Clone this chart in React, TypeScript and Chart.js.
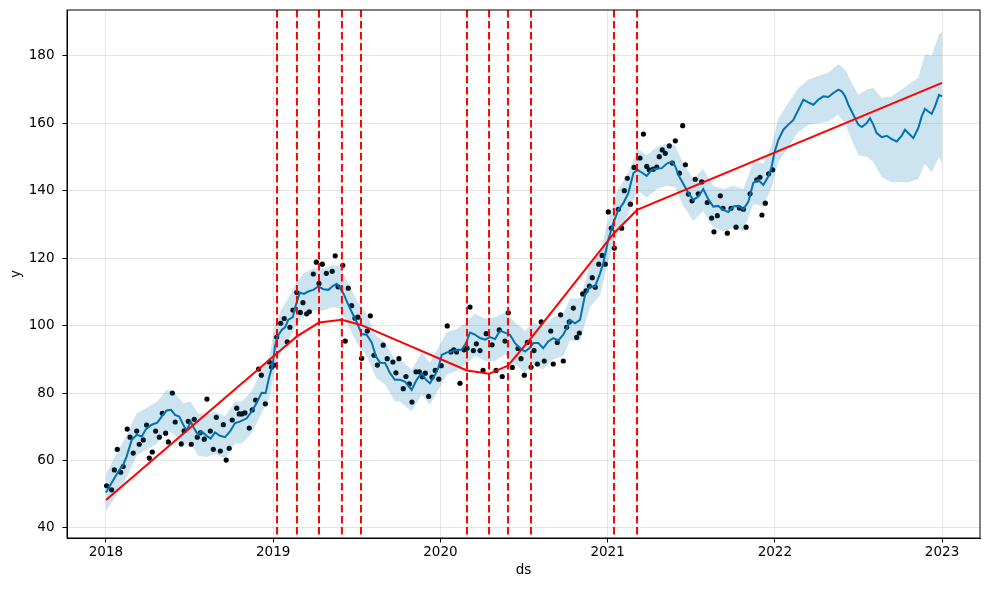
import React, { useEffect, useRef } from 'react';
import { Chart, registerables } from 'chart.js';

Chart.register(...registerables);

// Observed history (decimal years, value)
const historyDs = [
  2018.004, 2018.034, 2018.050, 2018.068, 2018.088, 2018.103, 2018.127, 2018.144, 2018.163, 2018.184,
  2018.199, 2018.223, 2018.243, 2018.259, 2018.277, 2018.297, 2018.319, 2018.337, 2018.357, 2018.373,
  2018.397, 2018.414, 2018.450, 2018.467, 2018.492, 2018.510, 2018.528, 2018.546, 2018.564, 2018.588,
  2018.604, 2018.624, 2018.642, 2018.660, 2018.684, 2018.702, 2018.719, 2018.737, 2018.755, 2018.782,
  2018.797, 2018.813, 2018.831, 2018.857, 2018.875, 2018.895, 2018.913, 2018.929, 2018.953, 2018.977,
  2018.990, 2019.007, 2019.021, 2019.045, 2019.066, 2019.084, 2019.100, 2019.118, 2019.141, 2019.162,
  2019.178, 2019.200, 2019.216, 2019.240, 2019.258, 2019.274, 2019.294, 2019.318, 2019.353, 2019.371,
  2019.388, 2019.416, 2019.431, 2019.449, 2019.469, 2019.489, 2019.507, 2019.529, 2019.563, 2019.581,
  2019.603, 2019.623, 2019.658, 2019.682, 2019.716, 2019.734, 2019.752, 2019.778, 2019.794, 2019.814,
  2019.830, 2019.854, 2019.874, 2019.892, 2019.910, 2019.930, 2019.950, 2019.969, 2019.990, 2020.005,
  2020.041, 2020.063, 2020.080, 2020.097, 2020.117, 2020.141, 2020.159, 2020.177, 2020.197, 2020.215,
  2020.237, 2020.255, 2020.274, 2020.309, 2020.333, 2020.352, 2020.370, 2020.386, 2020.406, 2020.430,
  2020.464, 2020.482, 2020.502, 2020.520, 2020.542, 2020.560, 2020.580, 2020.603, 2020.621, 2020.660,
  2020.675, 2020.699, 2020.719, 2020.735, 2020.755, 2020.771, 2020.795, 2020.815, 2020.831, 2020.851,
  2020.871, 2020.891, 2020.908, 2020.926, 2020.947, 2020.967, 2020.986, 2021.004, 2021.022, 2021.040,
  2021.064, 2021.084, 2021.100, 2021.118, 2021.136, 2021.158, 2021.194, 2021.214, 2021.234, 2021.249,
  2021.273, 2021.294, 2021.309, 2021.327, 2021.345, 2021.369, 2021.387, 2021.405, 2021.429, 2021.449,
  2021.465, 2021.483, 2021.505, 2021.524, 2021.542, 2021.563, 2021.596, 2021.622, 2021.636, 2021.656,
  2021.674, 2021.690, 2021.716, 2021.738, 2021.768, 2021.788, 2021.812, 2021.828, 2021.852, 2021.892,
  2021.911, 2021.923, 2021.943, 2021.963, 2021.987,
];
const historyY = [
  52.5, 51.3, 57.2, 63.3, 56.5, 58.2, 69.3, 66.9, 62.2, 68.7,
  64.8, 66.1, 70.5, 60.7, 62.5, 68.7, 66.9, 74.0, 68.1, 65.5,
  80.0, 71.4, 64.9, 68.8, 71.6, 64.8, 72.2, 66.9, 68.2, 66.3,
  78.2, 68.7, 63.3, 72.8, 62.8, 70.6, 60.1, 63.6, 72.0, 75.5,
  73.8, 73.8, 74.1, 69.6, 75.0, 77.9, 87.1, 85.3, 76.8, 89.2,
  87.7, 88.3, 96.6, 100.7, 102.1, 95.2, 99.5, 104.6, 109.8, 103.9,
  106.8, 103.5, 104.1, 115.3, 118.8, 112.5, 118.2, 115.5, 116.1, 120.7,
  111.5, 117.9, 95.4, 111.1, 105.9, 102.2, 102.5, 90.3, 98.4, 102.9,
  91.2, 88.3, 94.2, 90.2, 89.2, 86.0, 90.2, 81.3, 84.9, 82.7,
  77.3, 86.3, 86.3, 84.8, 85.9, 79.0, 84.7, 86.7, 84.1, 88.1,
  99.9, 92.2, 92.8, 92.2, 82.9, 92.8, 93.3, 105.5, 92.6, 94.6,
  92.6, 86.7, 97.6, 94.3, 86.7, 98.7, 84.9, 95.4, 103.8, 87.6,
  93.2, 90.2, 85.3, 95.0, 87.7, 92.6, 88.6, 101.1, 89.5, 98.4,
  88.6, 95.0, 103.2, 89.5, 99.5, 101.1, 105.2, 96.5, 97.8, 109.4,
  110.3, 111.7, 114.2, 111.4, 118.2, 120.8, 118.2, 133.7, 128.9, 123.0,
  134.5, 128.9, 140.0, 143.7, 136.0, 146.9, 149.7, 156.8, 147.2, 146.2,
  146.4, 147.0, 150.1, 152.1, 151.1, 153.3, 148.2, 154.8, 145.2, 159.3,
  147.7, 139.0, 137.0, 143.4, 139.1, 142.6, 136.5, 131.9, 127.8, 132.6,
  138.5, 134.8, 127.4, 134.8, 129.2, 134.9, 134.5, 129.2, 139.1, 143.2,
  144.0, 132.8, 136.3, 145.0, 146.2,
];

// Forecast line (yhat)
const forecastDs = [
  2018.000, 2018.044, 2018.074, 2018.103, 2018.124, 2018.154, 2018.184, 2018.214, 2018.239, 2018.273,
  2018.307, 2018.333, 2018.363, 2018.389, 2018.413, 2018.438, 2018.462, 2018.483, 2018.507, 2018.526,
  2018.550, 2018.572, 2018.602, 2018.626, 2018.652, 2018.682, 2018.712, 2018.742, 2018.772, 2018.801,
  2018.842, 2018.871, 2018.901, 2018.931, 2018.955, 2018.977, 2018.997, 2019.011, 2019.025, 2019.051,
  2019.071, 2019.090, 2019.117, 2019.136, 2019.160, 2019.184, 2019.210, 2019.240, 2019.270, 2019.300,
  2019.330, 2019.359, 2019.380, 2019.400, 2019.419, 2019.449, 2019.475, 2019.499, 2019.529, 2019.559,
  2019.589, 2019.615, 2019.639, 2019.669, 2019.699, 2019.728, 2019.758, 2019.788, 2019.828, 2019.858,
  2019.888, 2019.914, 2019.938, 2019.968, 2019.987, 2020.008, 2020.038, 2020.068, 2020.097, 2020.127,
  2020.153, 2020.177, 2020.207, 2020.237, 2020.267, 2020.297, 2020.327, 2020.356, 2020.386, 2020.416,
  2020.446, 2020.476, 2020.506, 2020.532, 2020.556, 2020.586, 2020.615, 2020.645, 2020.675, 2020.705,
  2020.735, 2020.765, 2020.775, 2020.805, 2020.835, 2020.865, 2020.895, 2020.925, 2020.955, 2020.974,
  2021.004, 2021.034, 2021.064, 2021.094, 2021.124, 2021.154, 2021.178, 2021.204, 2021.234, 2021.264,
  2021.294, 2021.324, 2021.353, 2021.383, 2021.403, 2021.423, 2021.453, 2021.483, 2021.513, 2021.543,
  2021.572, 2021.602, 2021.632, 2021.662, 2021.692, 2021.722, 2021.752, 2021.782, 2021.812, 2021.842,
  2021.871, 2021.901, 2021.931, 2021.961, 2021.981, 2021.997, 2022.021, 2022.051, 2022.081, 2022.111,
  2022.141, 2022.171, 2022.200, 2022.230, 2022.260, 2022.290, 2022.320, 2022.350, 2022.380, 2022.400,
  2022.420, 2022.440, 2022.460, 2022.480, 2022.499, 2022.520, 2022.550, 2022.569, 2022.589, 2022.609,
  2022.639, 2022.669, 2022.699, 2022.729, 2022.759, 2022.778, 2022.798, 2022.828, 2022.858, 2022.879,
  2022.898, 2022.918, 2022.938, 2022.958, 2022.982, 2023.000,
];
const forecastYhat = [
  50.5, 54.2, 56.7, 58.7, 61.2, 66.1, 67.6, 67.1, 69.3, 70.6,
  71.2, 73.0, 74.8, 75.0, 73.5, 73.0, 70.6, 68.9, 71.5, 69.6,
  67.6, 68.6, 67.3, 66.5, 68.3, 67.3, 66.9, 68.6, 71.1, 71.5,
  72.5, 74.5, 77.0, 80.1, 80.0, 84.9, 88.4, 93.8, 96.7, 98.7,
  99.5, 101.7, 102.5, 106.2, 109.8, 109.4, 110.1, 110.6, 111.6, 110.8,
  110.6, 111.8, 112.4, 111.1, 109.6, 106.2, 103.5, 101.1, 97.5, 97.3,
  95.0, 90.8, 89.0, 88.9, 85.9, 83.9, 83.9, 83.4, 80.9, 83.9,
  85.9, 83.9, 82.9, 85.4, 87.4, 91.3, 92.0, 92.3, 92.8, 92.8,
  94.8, 97.9, 97.3, 96.3, 95.8, 96.6, 96.0, 98.5, 97.9, 97.3,
  94.8, 93.3, 92.3, 93.3, 94.8, 94.8, 93.3, 95.3, 96.3, 95.6,
  97.3, 100.2, 101.7, 100.7, 101.7, 109.1, 111.6, 111.6, 115.5, 118.5,
  125.4, 130.4, 134.3, 136.3, 139.3, 145.2, 146.2, 145.4, 144.4, 146.2,
  146.6, 146.7, 148.0, 148.7, 147.4, 144.7, 142.0, 139.3, 137.3, 138.3,
  140.5, 137.5, 135.3, 135.5, 134.3, 133.7, 135.3, 135.5, 134.5, 136.8,
  142.3, 143.2, 141.7, 144.2, 147.2, 151.2, 155.1, 158.1, 159.6, 161.0,
  164.0, 167.0, 166.2, 165.5, 167.0, 168.0, 167.8, 169.0, 170.0, 169.5,
  168.0, 165.5, 163.5, 161.5, 159.6, 158.9, 160.1, 161.5, 159.6, 157.1,
  155.9, 156.3, 155.3, 154.6, 156.3, 158.1, 157.1, 155.6, 158.6, 162.1,
  164.3, 163.5, 162.8, 165.0, 168.4, 168.0,
];

// Uncertainty interval (yhat_lower / yhat_upper)
const bandDs = [
  2018.000, 2018.074, 2018.124, 2018.184, 2018.239, 2018.307, 2018.363, 2018.413, 2018.462, 2018.507,
  2018.550, 2018.602, 2018.652, 2018.712, 2018.772, 2018.812, 2018.871, 2018.931, 2018.977, 2019.011,
  2019.051, 2019.090, 2019.136, 2019.184, 2019.240, 2019.300, 2019.359, 2019.400, 2019.449, 2019.499,
  2019.559, 2019.615, 2019.669, 2019.728, 2019.758, 2019.828, 2019.888, 2019.938, 2019.987, 2020.038,
  2020.097, 2020.153, 2020.207, 2020.267, 2020.327, 2020.386, 2020.446, 2020.506, 2020.556, 2020.615,
  2020.675, 2020.735, 2020.775, 2020.835, 2020.895, 2020.955, 2021.004, 2021.064, 2021.124, 2021.178,
  2021.234, 2021.294, 2021.353, 2021.403, 2021.453, 2021.513, 2021.572, 2021.632, 2021.692, 2021.752,
  2021.812, 2021.871, 2021.931, 2021.981, 2022.021, 2022.081, 2022.141, 2022.200, 2022.260, 2022.320,
  2022.380, 2022.420, 2022.460, 2022.499, 2022.550, 2022.589, 2022.639, 2022.699, 2022.759, 2022.798,
  2022.858, 2022.898, 2022.938, 2022.982, 2023.000,
];
const bandUpper = [
  56.0, 63.0, 67.5, 74.0, 75.5, 77.5, 81.0, 80.0, 77.0, 77.5,
  74.0, 73.5, 74.5, 73.0, 77.5, 77.5, 80.5, 86.5, 91.0, 100.0,
  105.0, 108.0, 112.5, 115.5, 117.0, 117.0, 118.0, 117.5, 112.5, 107.5,
  103.5, 97.0, 95.0, 90.0, 90.0, 87.0, 92.0, 89.0, 93.5, 98.0,
  99.0, 101.0, 103.5, 102.0, 102.5, 104.0, 101.0, 98.5, 101.0, 99.5,
  102.5, 103.5, 108.0, 108.0, 118.0, 121.5, 131.5, 140.5, 145.5, 152.5,
  150.5, 153.0, 154.0, 153.5, 148.0, 143.5, 146.5, 141.5, 140.5, 141.5,
  140.5, 148.5, 148.0, 153.5, 161.5, 166.0, 170.5, 173.0, 174.0, 175.0,
  177.5, 176.0, 172.0, 168.5, 170.0, 170.5, 167.5, 168.0, 170.0, 171.5,
  173.5, 180.5, 180.0, 186.5, 187.0,
];
const bandLower = [
  45.0, 50.5, 55.0, 61.5, 63.0, 65.0, 69.0, 67.5, 64.5, 65.5,
  61.5, 61.0, 62.0, 60.5, 65.0, 65.0, 68.0, 74.0, 78.5, 87.5,
  92.5, 95.5, 100.0, 103.0, 104.5, 104.5, 105.5, 105.0, 100.0, 95.0,
  91.0, 84.5, 82.5, 77.5, 77.5, 74.5, 79.5, 76.5, 81.0, 85.5,
  86.5, 88.5, 91.0, 89.5, 89.5, 91.5, 88.5, 86.0, 88.5, 87.0,
  90.0, 91.0, 95.5, 95.5, 105.5, 109.0, 119.0, 128.0, 133.0, 140.0,
  138.0, 140.5, 141.5, 141.0, 135.5, 131.0, 134.0, 129.0, 128.0, 129.0,
  128.0, 136.0, 135.5, 141.0, 148.5, 153.0, 157.5, 159.5, 160.0, 160.5,
  162.5, 160.0, 155.0, 150.5, 150.0, 148.5, 144.0, 142.5, 142.5, 142.5,
  143.5, 148.0, 145.5, 150.0, 148.0,
];

// Piecewise-linear trend and its changepoints
const trendDs = [2018.0, 2019.023, 2019.142, 2019.274, 2019.411, 2019.525, 2020.159, 2020.291, 2020.404, 2020.542, 2021.038, 2021.176, 2023.0];
const trendY = [48.3, 91.8, 96.8, 100.9, 101.7, 100.2, 86.7, 85.7, 88.1, 96.3, 127.4, 134.3, 172.0];
const changepoints = [2019.023, 2019.142, 2019.274, 2019.411, 2019.525, 2020.159, 2020.291, 2020.404, 2020.542, 2021.038, 2021.176];

const xTicks = [2018, 2019, 2020, 2021, 2022, 2023];
const yTicks = [40, 60, 80, 100, 120, 140, 160, 180];
const X_MIN = 2017.767;
const X_MAX = 2023.227;
const Y_MIN = 37.0;
const Y_MAX = 193.6;

const FONT = { family: 'DejaVu Sans', size: 13.5 };

const framePlugin = {
  id: 'frame',
  afterDraw(chart: any) {
    const { ctx, chartArea } = chart;
    ctx.save();
    ctx.strokeStyle = '#000';
    ctx.lineWidth = 1;
    ctx.strokeRect(chartArea.left, chartArea.top, chartArea.right - chartArea.left, chartArea.bottom - chartArea.top);
    ctx.restore();
  },
};

export default function App() {
  const canvasRef = useRef<HTMLCanvasElement | null>(null);

  useEffect(() => {
    if (!canvasRef.current) return;
    const zip = (xs: number[], ys: number[]) => xs.map((x, i) => ({ x, y: ys[i] }));

    const cpSets = changepoints.map((cp) => ({
      type: 'line' as const,
      data: [{ x: cp, y: Y_MAX }, { x: cp, y: Y_MIN }],
      borderColor: '#ff0000',
      borderWidth: 2,
      borderDash: [7.5, 3.5],
      pointRadius: 0,
      fill: false,
    }));

    const chart = new Chart(canvasRef.current, {
      type: 'line',
      data: {
        datasets: [
          ...cpSets,
          {
            data: zip(trendDs, trendY),
            borderColor: '#ff0000',
            borderWidth: 2,
            pointRadius: 0,
            fill: false,
          },
          {
            data: zip(bandDs, bandLower),
            borderWidth: 0,
            borderColor: 'rgba(0,0,0,0)',
            backgroundColor: 'rgba(0,114,178,0.2)',
            pointRadius: 0,
            fill: '+1',
          },
          {
            data: zip(bandDs, bandUpper),
            borderWidth: 0,
            borderColor: 'rgba(0,0,0,0)',
            pointRadius: 0,
            fill: false,
          },
          {
            data: zip(forecastDs, forecastYhat),
            borderColor: '#0072B2',
            borderWidth: 2,
            pointRadius: 0,
            fill: false,
          },
          {
            data: zip(historyDs, historyY),
            showLine: false,
            pointRadius: 2.6,
            pointBackgroundColor: '#000',
            pointBorderWidth: 0,
            borderColor: '#000',
            fill: false,
          },
        ],
      },
      options: {
        animation: false,
        responsive: true,
        maintainAspectRatio: false,
        events: [],
        layout: { padding: { left: 0, right: 9, top: 10, bottom: 0 } },
        elements: { line: { tension: 0 } },
        plugins: { legend: { display: false }, tooltip: { enabled: false } },
        scales: {
          x: {
            type: 'linear',
            min: X_MIN,
            max: X_MAX,
            afterFit: (s: any) => { s.height = 52; s.paddingLeft = 0; s.paddingRight = 0; },
            afterBuildTicks: (s: any) => { s.ticks = xTicks.map((v) => ({ value: v })); },
            ticks: {
              callback: (v: any) => String(v),
              font: FONT,
              color: '#000',
              padding: 2,
              maxRotation: 0,
            },
            grid: { color: 'rgba(128,128,128,0.2)', lineWidth: 1, tickColor: '#000', tickLength: 4.5 },
            border: { color: '#000', width: 1 },
            title: { display: true, text: 'ds', font: FONT, color: '#000', padding: { top: 4, bottom: 11 } },
          },
          y: {
            type: 'linear',
            min: Y_MIN,
            max: Y_MAX,
            afterFit: (s: any) => { s.width = 67; s.paddingTop = 0; s.paddingBottom = 0; },
            afterBuildTicks: (s: any) => { s.ticks = yTicks.map((v) => ({ value: v })); },
            ticks: {
              callback: (v: any) => String(v),
              font: FONT,
              color: '#000',
              padding: 8,
            },
            grid: { color: 'rgba(128,128,128,0.2)', lineWidth: 1, tickColor: '#000', tickLength: 4.5 },
            border: { color: '#000', width: 1 },
            title: { display: true, text: 'y', font: FONT, color: '#000', padding: { top: 8, bottom: 0 } },
          },
        },
      },
      plugins: [framePlugin],
    } as any);

    return () => chart.destroy();
  }, []);

  return (
    <div style={{ position: 'absolute', left: 0, top: 0, width: 989, height: 590, background: '#fff' }}>
      <canvas ref={canvasRef} />
    </div>
  );
}
